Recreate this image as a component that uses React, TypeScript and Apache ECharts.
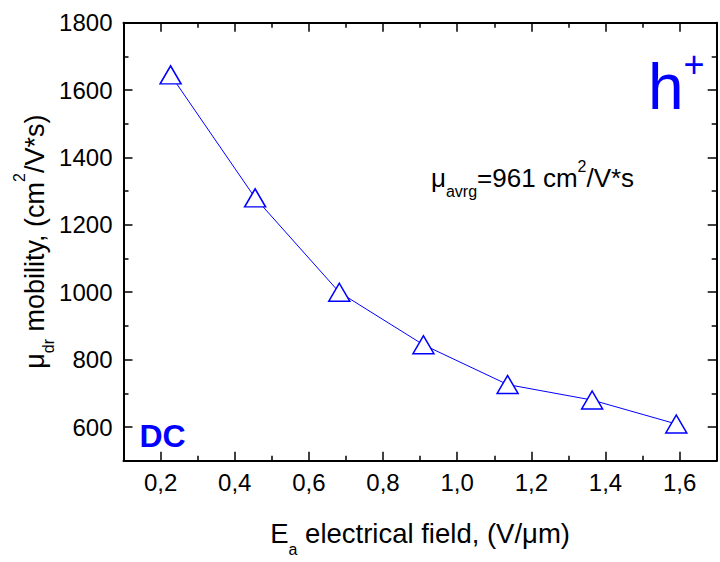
import React, { useEffect, useRef } from "react";
import * as echarts from "echarts";

const fieldValues = [0.227, 0.455, 0.682, 0.909, 1.136, 1.364, 1.591];
const mobilityValues = [1645, 1280, 1000, 844, 726, 680, 609];

const xMajorTicks = [0.2, 0.4, 0.6, 0.8, 1.0, 1.2, 1.4, 1.6];
const xMinorTicks = [0.3, 0.5, 0.7, 0.9, 1.1, 1.3, 1.5];
const yMajorTicks = [600, 800, 1000, 1200, 1400, 1600, 1800];
const yMinorTicks = [700, 900, 1100, 1300, 1500, 1700];

const FONT = "'Liberation Sans', Arial, sans-serif";
const BLUE = "#0000ff";
const BLACK = "#000000";

export default function App() {
  const ref = useRef<HTMLDivElement>(null);

  useEffect(() => {
    if (!ref.current) return;
    const chart = echarts.init(ref.current, null, { renderer: "svg" });

    const gridBox = { left: 123.5, top: 22.7, right: 3.3, bottom: 101.3, containLabel: false, outerBoundsMode: "none" };
    const lineStyle = { color: BLACK, width: 2 };
    const tickStyle = { color: BLACK, width: 1.5 };

    const mkX = (gridIndex: number, position: string, ticks: number[], len: number, showLine: boolean, main: boolean) => ({
      type: "value",
      gridIndex,
      position,
      min: 0.1,
      max: 1.7,
      axisLine: { show: showLine, onZero: false, lineStyle },
      axisTick: { show: true, inside: true, length: len, customValues: ticks, lineStyle: tickStyle },
      axisLabel: main
        ? {
            show: true,
            customValues: xMajorTicks,
            formatter: (v: number) => v.toFixed(1).replace(".", ","),
            fontSize: 24,
            fontFamily: FONT,
            color: BLACK,
            margin: 10,
          }
        : { show: false },
      splitLine: { show: false },
      ...(main
        ? {
            name: "{m|E}{s|a}{m| electrical field, (V/μm)}",
            nameLocation: "middle",
            nameGap: 53,
            nameMoveOverlap: false,
            nameTextStyle: {
              rich: {
                m: { fontSize: 27.5, lineHeight: 40, fontFamily: FONT, color: BLACK },
                s: { fontSize: 16, lineHeight: 9, height: 9, fontFamily: FONT, color: BLACK, verticalAlign: "bottom" },
              },
            },
          }
        : {}),
    });

    const mkY = (gridIndex: number, position: string, ticks: number[], len: number, showLine: boolean, main: boolean) => ({
      type: "value",
      gridIndex,
      position,
      min: 500,
      max: 1800,
      axisLine: { show: showLine, onZero: false, lineStyle },
      axisTick: { show: true, inside: true, length: len, customValues: ticks, lineStyle: tickStyle },
      axisLabel: main
        ? {
            show: true,
            customValues: yMajorTicks,
            formatter: (v: number) => String(v),
            fontSize: 24,
            fontFamily: FONT,
            color: BLACK,
            margin: 11,
          }
        : { show: false },
      splitLine: { show: false },
      ...(main
        ? {
            name: "{m|μ}{s|dr}{m| mobility, (cm}{p|2}{m|/V*s)}",
            nameLocation: "middle",
            nameRotate: 90,
            nameGap: 69,
            nameMoveOverlap: false,
            nameTextStyle: {
              rich: {
                m: { fontSize: 27, lineHeight: 40, fontFamily: FONT, color: BLACK },
                s: { fontSize: 16, lineHeight: 13, height: 13, fontFamily: FONT, color: BLACK, verticalAlign: "bottom" },
                p: { fontSize: 16, lineHeight: 9, height: 9, fontFamily: FONT, color: BLACK, verticalAlign: "top" },
              },
            },
          }
        : {}),
    });

    const option: any = {
      animation: false,
      backgroundColor: "#ffffff",
      grid: [0, 1, 2, 3].map(() => ({ ...gridBox })),
      xAxis: [
        mkX(0, "bottom", xMajorTicks, 9, true, true),
        mkX(1, "top", xMajorTicks, 9, true, false),
        mkX(2, "bottom", xMinorTicks, 5, false, false),
        mkX(3, "top", xMinorTicks, 5, false, false),
      ],
      yAxis: [
        mkY(0, "left", yMajorTicks, 9, true, true),
        mkY(1, "right", yMajorTicks, 9, true, false),
        mkY(2, "left", yMinorTicks, 5, false, false),
        mkY(3, "right", yMinorTicks, 5, false, false),
      ],
      series: [
        {
          type: "line",
          xAxisIndex: 0,
          yAxisIndex: 0,
          data: fieldValues.map((x, i) => [x, mobilityValues[i]]),
          symbol: "triangle",
          symbolSize: [21, 18],
          showAllSymbol: true,
          lineStyle: { color: BLUE, width: 1 },
          itemStyle: { color: "#ffffff", borderColor: BLUE, borderWidth: 1.5 },
          emphasis: { disabled: true },
          z: 3,
        },
      ],
      graphic: [
        {
          type: "text",
          x: 431,
          y: 158,
          z: 10,
          style: {
            text: "{m|μ}{s|avrg}{m|=961 cm}{p|2}{m|/V*s}",
            align: "left",
            verticalAlign: "top",
            rich: {
              m: { fontSize: 26, lineHeight: 40, fontFamily: FONT, fill: BLACK, color: BLACK },
              s: { fontSize: 16, lineHeight: 13, height: 13, fontFamily: FONT, fill: BLACK, color: BLACK, verticalAlign: "bottom" },
              p: { fontSize: 16, lineHeight: 17, height: 17, fontFamily: FONT, fill: BLACK, color: BLACK, verticalAlign: "top" },
            },
          },
        },
        {
          type: "text",
          x: 648,
          y: 54.8,
          z: 10,
          style: {
            text: "{h|h}{p|+}",
            align: "left",
            verticalAlign: "top",
            rich: {
              h: { fontSize: 64, lineHeight: 64, fontFamily: FONT, fill: BLUE, color: BLUE },
              p: { fontSize: 36, lineHeight: 20, height: 20, fontFamily: FONT, fill: BLUE, color: BLUE, verticalAlign: "top" },
            },
          },
        },
        {
          type: "text",
          x: 139.4,
          y: 435.6,
          z: 10,
          style: {
            text: "DC",
            align: "left",
            verticalAlign: "middle",
            fontSize: 32,
            fontWeight: "bold",
            fontFamily: FONT,
            fill: BLUE,
          },
        },
      ],
    };

    chart.setOption(option);
    return () => chart.dispose();
  }, []);

  return (
    <div
      ref={ref}
      style={{ position: "fixed", left: 0, top: 0, width: 720, height: 562, background: "#fff" }}
    />
  );
}
